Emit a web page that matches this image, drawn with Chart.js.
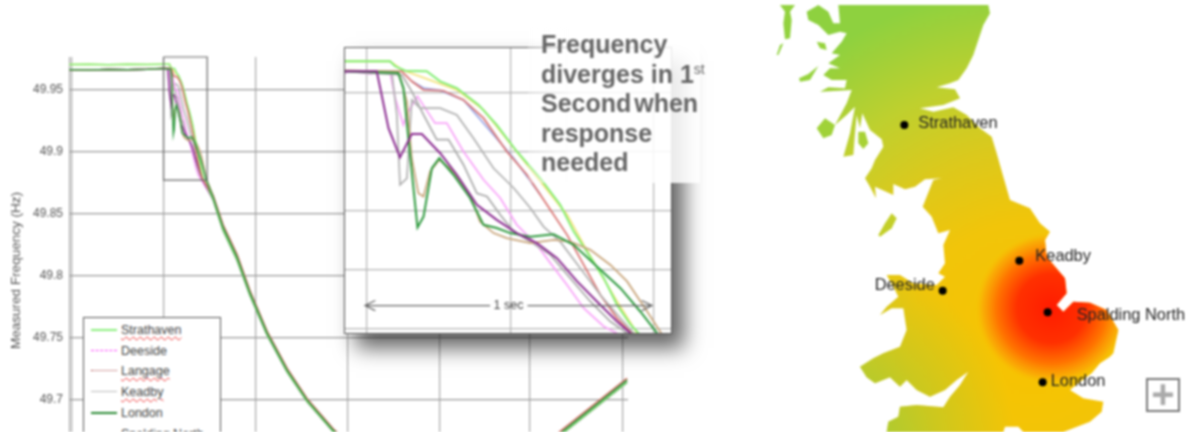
<!DOCTYPE html>
<html>
<head>
<meta charset="utf-8">
<script src="https://cdn.jsdelivr.net/npm/chart.js@4/dist/chart.umd.js"></script>
<style>
  html, body { margin: 0; background: #fff; overflow: hidden; width: 1192px; height: 432px; }
  #stage { position: relative; width: 1192px; height: 432px; overflow: hidden; filter: blur(0.8px); font-family: "Liberation Sans", Arial, sans-serif; }
  #stage canvas { position: absolute; left: 0; top: 0; }
  #mainChart { z-index: 1; }
  #legend { position: absolute; z-index: 2; left: 83px; top: 317px; width: 136px; height: 130px; border: 1px solid #555; background: #fff; }
  .row { position: absolute; left: 0; height: 20px; line-height: 20px; font-size: 12.5px; color: #444; white-space: nowrap; }
  .swatch { position: absolute; left: 7px; top: 9px; width: 26px; }
  .row span { position: absolute; left: 37px; top: 0; }
  .squiggle { text-decoration: underline wavy #e33 1px; text-underline-offset: 2px; }
  #insetBox { position: absolute; z-index: 3; left: 344px; top: 47px; width: 326px; height: 285px; border: 1px solid #555; background: #fff; box-shadow: 12px 14px 20px rgba(0,0,0,.62); }
  #callout { position: absolute; z-index: 4; left: 528px; top: 28px; width: 172px; height: 155px; background: linear-gradient(90deg, rgba(255,255,255,.25), rgba(255,255,255,.86) 45px); }
  #callout div { position: absolute; left: 13px; top: 2px; font-size: 25px; font-weight: bold; line-height: 29.5px; color: #666; white-space: nowrap; }
  #callout .tight { word-spacing: -4px; }
  #callout sup { font-size: 14px; font-weight: normal; line-height: 0; vertical-align: 9px; }
  #mapChart { left: 770px !important; z-index: 1; }
  #plus { position: absolute; z-index: 2; left: 1146px; top: 378px; width: 30px; height: 30px; border: 2px solid #777; background: #fff; color: #aaa; font: bold 40px/29px "Liberation Sans", Arial, sans-serif; text-align: center; }
</style>
</head>
<body>
<div id="stage">
  <canvas id="mainChart" width="700" height="484"></canvas>
  <div id="legend"></div>
  <div id="insetBox"><canvas id="insetChart" width="326" height="285"></canvas></div>
  <div id="callout"><div>Frequency<br>diverges in 1<sup>st</sup><br><span class="tight">Second when</span><br>response<br>needed</div></div>
  <canvas id="mapChart" width="422" height="432"></canvas>
  <div id="plus">+</div>
</div>
<script>
// seconds / Hz
const strathavenT = [-.076,.081,.099,.134,.209,.256,.314,.390,.453,.523,.605,.674,.721,.767,.826,.872,.919,.948];
const strathavenF = [49.9708,49.9708,49.9691,49.9676,49.9674,49.9640,49.9617,49.9560,49.9492,49.9402,49.9311,49.9221,49.9130,49.9062,49.8972,49.8881,49.8814,49.8785];
const yellowT = [-.076,.081,.122,.314,.407,.698,.756,.872,.942];
const yellowF = [49.9708,49.9708,49.9679,49.9611,49.9543,49.9187,49.9085,49.8893,49.8785];
const langageT = [-.076,.122,.157,.198,.267,.337,.407,.488,.558,.628,.698,.756,.814,.872,.924];
const langageF = [49.9676,49.9674,49.9640,49.9611,49.9608,49.9577,49.9515,49.9402,49.9323,49.9221,49.9119,49.9017,49.8915,49.8836,49.8785];
const blueT = [.157,.198,.256,.337,.512,.605];
const blueF = [49.9640,49.9617,49.9609,49.9577,49.9379,49.9255];
const deesideT = [-.076,-.058,.012,.081,.099,.128,.145,.177,.238,.279,.337,.407,.465,.523,.593,.640,.698,.756,.826,.872];
const deesideF = [49.9668,49.9674,49.9665,49.9674,49.9583,49.9492,49.9538,49.9589,49.9498,49.9498,49.9402,49.9306,49.9244,49.9153,49.9085,49.9023,49.8949,49.8870,49.8808,49.8785];
const keadbyT = [-.076,.087,.105,.116,.140,.157,.186,.256,.314,.372,.442,.512,.570,.616,.674,.744,.814,.884,.930];
const keadbyF = [49.9674,49.9674,49.9526,49.9289,49.9311,49.9577,49.9549,49.9549,49.9526,49.9447,49.9345,49.9278,49.9210,49.9147,49.9096,49.9006,49.8915,49.8836,49.8785];
const grey2T = [-.076,.122,.157,.198,.244,.285,.337,.384,.419,.465,.512,.570,.640,.709,.779,.849,.907];
const grey2F = [49.9674,49.9662,49.9606,49.9526,49.9442,49.9442,49.9357,49.9260,49.9249,49.9187,49.9130,49.9096,49.9051,49.8972,49.8893,49.8825,49.8785];
const londonT = [-.076,.110,.128,.145,.177,.198,.227,.253,.302,.360,.407,.453,.5,.570,.651,.721,.802,.884,.953,1.012];
const londonF = [49.9674,49.9668,49.9617,49.9447,49.9144,49.9181,49.9345,49.9379,49.9323,49.9244,49.9153,49.9142,49.9125,49.9113,49.9121,49.9085,49.9012,49.8938,49.8859,49.8785];
const tanT = [-.076,.110,.140,.157,.180,.198,.221,.253,.302,.360,.395,.442,.488,.570,.651,.709,.779,.849,.907,.977,1.026];
const tanF = [49.9676,49.9674,49.9572,49.9379,49.9260,49.9249,49.9334,49.9374,49.9334,49.9255,49.9164,49.9125,49.9108,49.9091,49.9102,49.9096,49.9068,49.9017,49.8961,49.8859,49.8785];
const spaldingT = [-.076,.035,.076,.116,.157,.192,.256,.314,.384,.453,.523,.593,.663,.733,.802,.872,.919];
const spaldingF = [49.9674,49.9674,49.9481,49.9382,49.9461,49.9461,49.9396,49.9323,49.9221,49.9170,49.9125,49.9091,49.9040,49.8961,49.8893,49.8825,49.8785];

// long run on the main panel: flat lead-in and the common tail
const leadT = [-2.51,-2.0,-1.5,-1.0,-0.5];
const leadHigh = [49.9706,49.9708,49.9705,49.9708,49.9706];
const leadLow = [49.9665,49.9663,49.9667,49.9665,49.9668];
const tailT = [1.2,1.457,1.818,2.154,2.593,3.108,3.624,4.294,5.248,6.537,7.825,9.114,10.22,11.87];
const tailMid = [49.8636,49.8393,49.8151,49.7860,49.7537,49.7238,49.6996,49.6754,49.648,49.632,49.628,49.647,49.6746,49.7158];
const tailLow = [49.8618,49.8368,49.8128,49.7842,49.7522,49.7225,49.6985,49.6744,49.6470,49.631,49.627,49.6455,49.6730,49.7140];
const tailHigh = [49.8650,49.8412,49.8172,49.7878,49.7552,49.7252,49.7008,49.6765,49.649,49.633,49.629,49.6485,49.6762,49.7172];

const mainGridT = [-2.445,-0.071,2.308,4.68,7.03,9.37,11.76];
const freqTicks = [49.95,49.9,49.85,49.8,49.75,49.7];
const insetGridT = [0,.5,1];
const insetGridF = [49.96,49.94,49.92,49.90,49.88];

// zoom rectangle on the main panel and the 1 sec arrow on the inset
const boxT = [-.076,1.05,1.05,-.076,-.076];
const boxF = [49.9767,49.9767,49.8773,49.8773,49.9767];
const arrowT = [.03,-.006,.03,null,-.006,.43,null,.56,.994,null,.958,.994,.958];
const arrowF = [49.8896,49.8879,49.8862,null,49.8879,49.8879,null,49.8879,49.8879,null,49.8896,49.8879,49.8862];

const legendNames = ['Strathaven','Deeside','Langage','Keadby','London','Spalding North'];
const legendMisspelt = ['Strathaven','Langage','Keadby','Spalding North'];

// map outline, in map units (0..1266 across, 0..1296 down)
const mainlandX = [205,655,660,640,625,610,590,565,540,500,555,570,520,450,490,550,590,630,665,680,700,720,780,810,840,825,830,885,890,860,880,910,960,1010,1045,1030,1020,990,965,925,900,940,1000,995,960,880,760,745,705,700,350,355,385,390,440,520,540,570,595,560,525,480,440,410,390,360,315,290,270,310,340,390,410,400,365,330,350,385,375,350,390,430,500,525,505,525,520,540,505,485,458,480,490,515,465,435,405,370,370,315,318,300,285,305,315,340,335,300,277,270,260,255,250,220,240,255,230,195,230,245,150,175,225,230,185,160,180,210,175,210,185,215,230,210,175,145,115,110,145,175,190,210,205];
const mainlandY = [15,15,40,75,120,165,205,240,250,262,268,295,315,325,335,322,345,385,410,460,530,600,625,670,695,720,770,835,880,915,935,905,908,930,990,1060,1070,1090,1120,1150,1170,1195,1205,1235,1265,1296,1296,1280,1280,1296,1296,1265,1250,1220,1215,1222,1190,1155,1115,1140,1170,1190,1170,1140,1160,1132,1150,1132,1100,1075,1060,1040,990,925,925,945,920,890,870,825,825,850,855,830,820,790,735,690,700,650,620,565,540,535,538,560,568,552,585,560,595,560,535,505,480,440,418,390,340,385,345,400,465,470,400,320,345,375,310,270,275,262,265,240,240,225,205,205,190,165,160,125,100,95,105,75,60,35,15,35,70,70,15];
const hebridesX = [30,75,60,65,60,45,40,45,30];
const hebridesY = [15,15,35,60,115,118,70,35,15];
const uistX = [40,25,20,30,40];
const uistY = [130,165,165,135,130];
const skyeX = [145,120,90,87,115,145];
const skyeY = [198,240,245,235,222,198];
const rumX = [140,165,170,150,140];
const rumY = [125,130,150,145,125];
const mullX = [140,165,195,185,160,140];
const mullY = [385,355,375,405,415,385];
const arranX = [265,285,295,280,265,265];
const arranY = [395,395,430,447,430,395];
const manX = [365,380,365,330,325,345,365];
const manY = [640,655,685,710,705,670,640];

const cityNames = ['Strathaven','Deeside','Keadby','Spalding North','London'];
const cityX = [403,518,748,833,818];
const cityY = [375,872,782,937,1147];

Chart.defaults.animation = false;
Chart.defaults.font.family = '"Liberation Sans", Arial, sans-serif';

const toPoints = (xs, ys) => xs.map((x, i) => ({ x, y: ys[i] }));

// writes a dataset's names next to its points
const pointNames = {
  id: 'pointNames',
  afterDatasetsDraw(chart) {
    const { ctx, scales } = chart;
    chart.data.datasets.forEach(ds => {
      if (!ds.names) return;
      ctx.save();
      ctx.font = ds.nameFont;
      ctx.fillStyle = ds.nameColor;
      ctx.textBaseline = 'middle';
      ctx.textAlign = ds.nameAlign || 'left';
      ds.names.forEach((name, i) => {
        const p = ds.data[i];
        const off = ds.nameOffsets[i];
        ctx.fillText(name, scales.x.getPixelForValue(p.x) + off[0], scales.y.getPixelForValue(p.y) + off[1]);
      });
      ctx.restore();
    });
  }
};

// top-most first, chart.js paints index 0 last. rank is the same idea for the main panel
const series = [
  { t: spaldingT, f: spaldingF, color: '#8a2a90', w: 2, rank: 4, lead: leadLow, tail: tailLow },
  { t: londonT, f: londonF, color: '#2f9a3f', w: 2, rank: 0, lead: leadLow, tail: tailMid },
  { t: tanT, f: tanF, color: '#c9a67c', w: 1.8, rank: 3, lead: leadLow, tail: tailHigh },
  { t: keadbyT, f: keadbyF, color: '#b0b0b0', w: 1.7, rank: 6, lead: leadLow, tail: tailMid },
  { t: grey2T, f: grey2F, color: '#a8a8a8', w: 1.7, rank: 7, lead: leadLow, tail: tailLow },
  { t: deesideT, f: deesideF, color: '#f9a4f9', w: 1.8, rank: 5, lead: leadLow, tail: tailLow },
  { t: langageT, f: langageF, color: '#d8706e', w: 1.7, rank: 1, lead: leadLow, tail: tailHigh },
  { t: blueT, f: blueF, color: '#9aa8e8', w: 1.7 },
  { t: strathavenT, f: strathavenF, color: '#7fee70', w: 1.9, rank: 2, lead: leadHigh, tail: tailLow },
  { t: yellowT, f: yellowF, color: '#f2e27a', w: 1.8, rank: 8, lead: leadHigh, tail: tailMid }
];

const gridTicks = list => scale => { scale.ticks = list.map(value => ({ value })); };

// main panel
new Chart(document.getElementById('mainChart'), {
  type: 'scatter',
  data: {
    datasets: [
      { data: toPoints(boxT, boxF), showLine: true, borderColor: '#666', borderWidth: 1.2, pointRadius: 0, clip: false },
      ...series.filter(s => s.tail).sort((a, b) => a.rank - b.rank).map(s => ({
        data: toPoints([...leadT, ...s.t, ...tailT], [...s.lead, ...s.f, ...s.tail]),
        showLine: true, borderColor: s.color, borderWidth: 1.5, pointRadius: 0
      }))
    ]
  },
  options: {
    responsive: false,
    layout: { autoPadding: false, padding: { left: 0, top: 57, right: 72, bottom: 0 } },
    plugins: { legend: { display: false }, tooltip: { enabled: false } },
    scales: {
      x: {
        type: 'linear', min: -2.512, max: 11.894,
        afterBuildTicks: gridTicks(mainGridT),
        afterFit: scale => { scale.height = 0; },
        ticks: { display: false },
        grid: { color: '#a8a8a8', lineWidth: 1.2, drawTicks: false },
        border: { display: false }
      },
      y: {
        type: 'linear', min: 49.6319, max: 49.9767,
        afterBuildTicks: gridTicks(freqTicks),
        // tick label overhang would otherwise shrink the plot
        afterFit: scale => { scale.width = 69; scale.paddingTop = 0; scale.paddingBottom = 0; },
        ticks: { color: '#555', font: { size: 12 }, padding: 6, callback: v => String(+v.toFixed(2)) },
        grid: { color: '#999', lineWidth: 1.2, drawTicks: false },
        border: { display: true, color: '#999' },
        title: { display: true, text: 'Measured Frequency (Hz)', color: '#555', font: { size: 13.5 }, padding: { top: 8, bottom: 0 } }
      }
    }
  }
});

// inset, the first second
new Chart(document.getElementById('insetChart'), {
  type: 'scatter',
  plugins: [pointNames],
  data: {
    datasets: [
      {
        data: toPoints(arrowT, arrowF), showLine: true, borderColor: '#666', borderWidth: 1.2, pointRadius: 0, spanGaps: false
      },
      {
        data: [{ x: .494, y: 49.8879 }], pointRadius: 0, names: ['1 sec'], nameOffsets: [[0, 0]],
        nameFont: '12.5px "Liberation Sans", Arial, sans-serif', nameColor: '#444', nameAlign: 'center'
      },
      ...series.map(s => ({
        data: toPoints(s.t, s.f), showLine: true, borderColor: s.color, borderWidth: s.w, pointRadius: 0
      }))
    ]
  },
  options: {
    responsive: false,
    layout: { autoPadding: false, padding: 0 },
    plugins: { legend: { display: false }, tooltip: { enabled: false } },
    scales: {
      x: {
        type: 'linear', min: -.0756, max: 1.06,
        afterBuildTicks: gridTicks(insetGridT),
        afterFit: scale => { scale.height = 0; },
        ticks: { display: false },
        grid: { color: '#b4b4b4', lineWidth: 1.2, drawTicks: false },
        border: { display: false }
      },
      y: {
        type: 'linear', min: 49.8786, max: 49.9753,
        afterBuildTicks: gridTicks(insetGridF),
        afterFit: scale => { scale.width = 0; },
        ticks: { display: false },
        grid: { color: '#b4b4b4', lineWidth: 1.2, drawTicks: false },
        border: { display: false }
      }
    }
  }
});

// map panel, three fills over the same outline
const radial = (cx, cy, r, stops) => ctx => {
  const { chart } = ctx;
  if (!chart.chartArea) return 'transparent';
  const { x, y } = chart.scales;
  const px = x.getPixelForValue(cx), py = y.getPixelForValue(cy);
  const g = chart.ctx.createRadialGradient(px, py, 0, px, py, Math.abs(x.getPixelForValue(cx + r) - px));
  stops.forEach(([at, color]) => g.addColorStop(at, color));
  return g;
};
const landBase = radial(790, 1040, 1080, [[0, '#f8c300'], [.35, '#f1c50a'], [.55, '#dcc91c'], [.75, '#bfd02e'], [1, '#8ed13f']]);
const westGreen = radial(230, 1296, 500, [[0, 'rgba(150,205,60,.85)'], [1, 'rgba(150,205,60,0)']]);
const heat = radial(845, 925, 230, [[0, '#ff1c00'], [.45, '#ff3000'], [.72, '#ff7400'], [.9, 'rgba(250,170,5,.85)'], [1, 'rgba(248,195,0,0)']]);
const land = (xs, ys, fillColor) => ({
  data: toPoints(xs, ys), showLine: true, fill: 'shape', backgroundColor: fillColor, borderWidth: 0, pointRadius: 0
});

new Chart(document.getElementById('mapChart'), {
  type: 'scatter',
  plugins: [pointNames],
  data: {
    datasets: [
      {
        data: toPoints(cityX, cityY), pointRadius: 4, pointBackgroundColor: '#000', pointBorderWidth: 0,
        names: cityNames, nameOffsets: [[14, -2], [-68, -5], [16, -4], [29, 3], [8, -1]],
        nameFont: '16.4px "Liberation Sans", Arial, sans-serif', nameColor: '#222'
      },
      land(mainlandX, mainlandY, heat),
      land(mainlandX, mainlandY, westGreen),
      land(mainlandX, mainlandY, landBase),
      land(hebridesX, hebridesY, '#92d23f'),
      land(uistX, uistY, '#92d23f'),
      land(skyeX, skyeY, '#96d33d'),
      land(rumX, rumY, '#96d33d'),
      land(mullX, mullY, '#a0d238'),
      land(arranX, arranY, '#a8d235'),
      land(manX, manY, '#c3cf28')
    ]
  },
  options: {
    responsive: false,
    layout: { autoPadding: false, padding: 0 },
    plugins: { legend: { display: false }, tooltip: { enabled: false } },
    scales: {
      x: { type: 'linear', min: 0, max: 1266, display: false },
      y: { type: 'linear', min: 0, max: 1296, reverse: true, display: false }
    }
  }
});

// html legend so the spell-check squiggles can be real underlines
const swatchStyles = ['2px solid #8df07f', '1px dashed #f4f', '1px dotted #a44', '1px solid #bbb', '2px solid #2a8a34', '1px dashed #8a2a90'];
document.getElementById('legend').innerHTML = legendNames.map((name, i) => `
  <div class="row" style="top:${2 + i * 20.7}px">
    <div class="swatch" style="border-top:${swatchStyles[i]}"></div>
    <span class="${legendMisspelt.includes(name) ? 'squiggle' : ''}">${name}</span>
  </div>`).join('');
</script>
</body>
</html>
